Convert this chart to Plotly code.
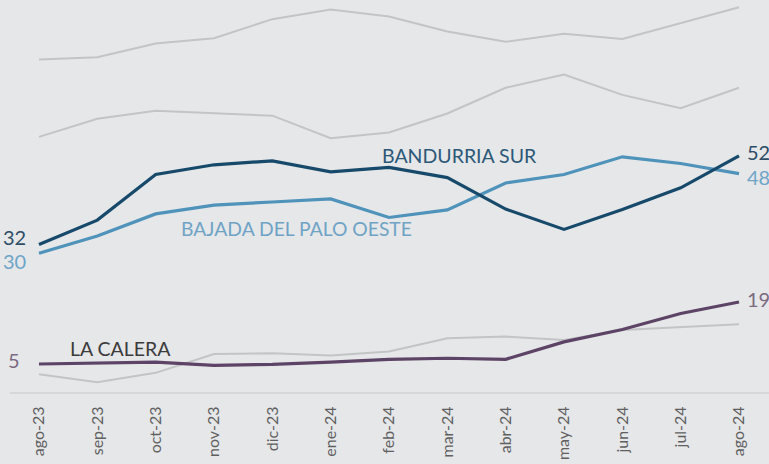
import plotly.graph_objects as go

months = ["ago-23", "sep-23", "oct-23", "nov-23", "dic-23", "ene-24", "feb-24",
          "mar-24", "abr-24", "may-24", "jun-24", "jul-24", "ago-24"]

bandurria_sur = [32, 37.5, 47.8, 50.0, 50.9, 48.4, 49.4, 47.1, 40.0, 35.4, 39.9, 44.8, 52]
bajada_palo_oeste = [30, 33.9, 38.9, 40.9, 41.6, 42.3, 38.1, 39.8, 45.9, 47.8, 51.8, 50.3, 48]
la_calera = [5, 5.15, 5.4, 4.7, 4.9, 5.4, 6.05, 6.3, 6.05, 10.0, 12.8, 16.4, 19]
gray_top = [73.8, 74.3, 77.4, 78.6, 82.9, 85.1, 83.5, 80.1, 77.8, 79.6, 78.4, 82.0, 85.6]
gray_mid = [56.3, 60.4, 62.2, 61.6, 61.1, 56.0, 57.3, 61.6, 67.4, 70.4, 65.8, 62.8, 67.4]
gray_low = [2.7, 0.9, 3.0, 7.25, 7.4, 6.9, 7.8, 10.8, 11.2, 10.4, 12.7, 13.3, 14.0]

x = list(range(len(months)))
BG = "#e6e7e9"
FONT = "Lato"

fig = go.Figure()
for g in [gray_top, gray_mid, gray_low]:
    fig.add_trace(go.Scatter(x=x, y=g, mode="lines",
                             line=dict(color="#c3c4c6", width=2), hoverinfo="skip"))

series = [
    (la_calera, "#5d4466"),
    (bajada_palo_oeste, "#4f93bb"),
    (bandurria_sur, "#17496b"),
]
for s, c in series:
    fig.add_trace(go.Scatter(x=x, y=s, mode="lines",
                             line=dict(color=c, width=3.2), hoverinfo="skip"))

ann = []
def lab(xi, yv, text, color, anchor, xshift, yshift):
    ann.append(dict(x=xi, y=yv, xref="x", yref="y", text=text, showarrow=False,
                    xanchor=anchor, yanchor="middle", xshift=xshift, yshift=yshift,
                    font=dict(family=FONT, size=20, color=color)))

lab(0, bandurria_sur[0], "32", "#2e4d66", "right", -11, 7)
lab(0, bajada_palo_oeste[0], "30", "#6ea5c8", "right", -11, -8)
lab(0, la_calera[0], "5", "#7c6a82", "right", -17, 4)
lab(12, bandurria_sur[-1], "52", "#2e4d66", "left", 6, 4)
lab(12, bajada_palo_oeste[-1], "48", "#6ea5c8", "left", 6, -3)
lab(12, la_calera[-1], "19", "#7c6a82", "left", 6, 3)

ann.append(dict(x=7.2, y=52.0, xref="x", yref="y", text="BANDURRIA SUR", showarrow=False,
                xanchor="center", yanchor="middle",
                font=dict(family=FONT, size=19.5, color="#2c5878")))
ann.append(dict(x=4.42, y=35.6, xref="x", yref="y", text="BAJADA DEL PALO OESTE", showarrow=False,
                xanchor="center", yanchor="middle",
                font=dict(family=FONT, size=19.3, color="#6fa3c5")))
ann.append(dict(x=1.405, y=8.4, xref="x", yref="y", text="LA CALERA", showarrow=False,
                xanchor="center", yanchor="middle",
                font=dict(family=FONT, size=19.5, color="#3b3b3b")))

fig.update_layout(
    width=769, height=464,
    margin=dict(l=10, r=0, t=0, b=72, autoexpand=False),
    paper_bgcolor=BG, plot_bgcolor=BG,
    showlegend=False,
    annotations=ann,
    xaxis=dict(range=[-0.497, 12.514], tickmode="array", tickvals=x, ticktext=months,
               tickangle=-90, showgrid=False, zeroline=False, automargin=False,
               showline=True, linecolor="#d6d7d9", linewidth=2,
               ticks="", ticklabelstandoff=6,
               tickfont=dict(family=FONT, size=16, color="#606060")),
    yaxis=dict(range=[-1.33, 87.23], visible=False, showgrid=False, zeroline=False),
)

fig.write_html("out.html", config={"displayModeBar": False},
               post_script="document.body.style.margin='0';document.body.style.padding='0';"
                           "document.body.style.background='%s';" % BG)
